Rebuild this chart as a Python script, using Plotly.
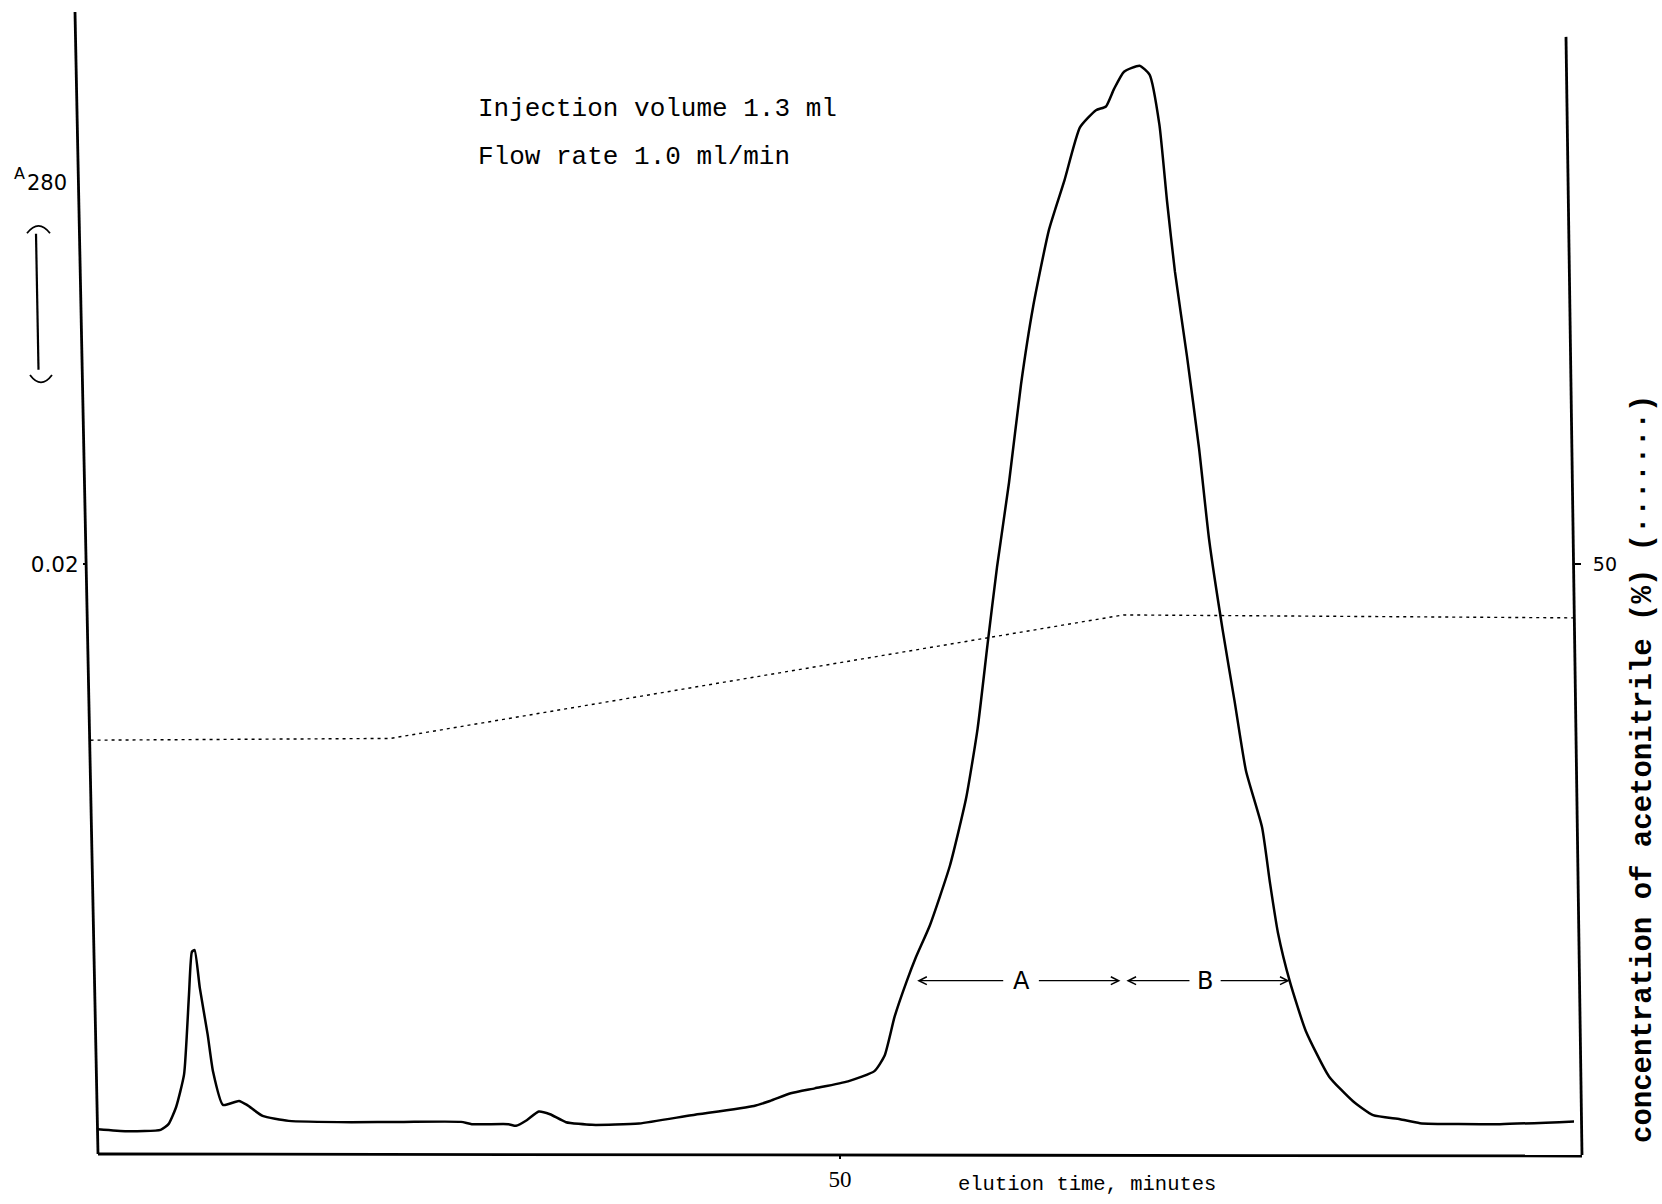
import plotly.graph_objects as go

# ---- chromatogram: elution time (min) vs absorbance at 280 nm ----
time_min = [0.0, 1.93, 4.22, 4.75, 5.26, 5.80, 6.13, 6.33, 6.51, 6.86, 7.39, 7.75, 8.42,
            9.50, 10.04, 11.09, 12.85, 17.08, 20.61, 24.46, 25.19, 27.65, 28.17, 28.89,
            29.70, 30.46, 31.54, 33.29, 36.46, 39.99, 44.20, 45.28, 46.68, 48.30, 50.54,
            52.32, 53.01, 53.68, 54.48, 55.12, 56.06, 57.41, 58.49, 59.27, 59.94, 60.58,
            61.39, 62.20, 63.01, 64.08, 65.13, 66.17, 67.25, 67.92, 68.46, 69.14, 70.19,
            70.86, 71.52, 72.04, 72.57, 73.38, 74.19, 74.87, 75.79, 76.58, 77.36, 78.44,
            78.98, 79.51, 80.32, 81.38, 82.95, 84.57, 85.92, 87.74, 89.08, 94.47, 99.80]
a280 = [0.000875, 0.000808, 0.000852, 0.001044, 0.001616, 0.002727, 0.005421, 0.006879,
        0.006936, 0.005657, 0.004074, 0.002828, 0.001694, 0.001828, 0.001694, 0.001323,
        0.001155, 0.001111, 0.001121, 0.001121, 0.001044, 0.001044, 0.000987, 0.001178,
        0.001471, 0.001380, 0.001111, 0.001020, 0.001067, 0.001347, 0.001660, 0.001828,
        0.002088, 0.002256, 0.002492, 0.002838, 0.003367, 0.004680, 0.005859, 0.006700,
        0.007778, 0.009798, 0.012054, 0.014424, 0.017273, 0.019899, 0.022761, 0.026094,
        0.028704, 0.031313, 0.032997, 0.034781, 0.035363, 0.035488, 0.036077, 0.036667,
        0.036869, 0.036566, 0.034882, 0.032273, 0.029899, 0.027037, 0.023939, 0.020842,
        0.017758, 0.015387, 0.012997, 0.011094, 0.009192, 0.007525, 0.005859, 0.004209,
        0.002660, 0.001818, 0.001347, 0.001212, 0.001077, 0.001044, 0.001145]

# ---- acetonitrile gradient (%) ----
grad_time = [-0.5, 19.7, 69.1, 99.4]
grad_pct = [35.1, 35.25, 45.7, 45.45]

# ---- pooled fractions ----
frac_labels = ["A", "B"]
frac_start = [55.2, 69.3]
frac_end = [68.9, 80.3]
frac_label_x = [62.2, 74.6]
frac_half_gap = [1.1, 0.95]
frac_level = 0.0059

# ---- absorbance scale bar (bracketed span) ----
bar_bottom = 0.0263
bar_length = 0.005

# ---- axis ticks ----
x_tick_vals = [50]
x_tick_text = ["50"]
y_tick_vals = [0.02]
y_tick_text = ["0.02"]
y2_tick_vals = [50]
y2_tick_text = ["50"]

W, H = 1662, 1204
ML, MR, MT, MB = 87, 88, 12, 43
PW, PH = W - ML - MR, H - MT - MB
PX_PER_MIN = 14.84
X0_PX = 98  # pixel column of t = 0


def px(x):
    return (x - ML) / PW


def py(y):
    return (H - MB - y) / PH


x_range = [(ML - X0_PX) / PX_PER_MIN, (W - MR - X0_PX) / PX_PER_MIN]
y_range = [0, PH / 594 * 0.02]
y2_range = [0, PH / 594 * 50]

fig = go.Figure()

fig.add_trace(go.Scatter(
    x=time_min, y=a280, mode="lines",
    line=dict(color="black", width=2.5, shape="spline", smoothing=0.5),
    showlegend=False, hoverinfo="skip"))

fig.add_trace(go.Scatter(
    x=grad_time, y=grad_pct, mode="lines", yaxis="y2",
    line=dict(color="black", width=1.4, dash="3px,4px"),
    showlegend=False, hoverinfo="skip"))

shapes = []
line_style = dict(color="black", width=2.8)
# frame lines (left, right, bottom)
shapes.append(dict(type="line", xref="paper", yref="paper",
                   x0=px(75), y0=py(12), x1=px(98), y1=py(1160), line=line_style))
shapes.append(dict(type="line", xref="paper", yref="paper",
                   x0=px(1566), y0=py(37), x1=px(1582), y1=py(1161), line=line_style))
shapes.append(dict(type="line", xref="paper", yref="paper",
                   x0=px(98), y0=py(1160), x1=px(1582), y1=py(1162), line=line_style))

# A280 scale bar: vertical stroke between two bracket caps
bar_top = bar_bottom + bar_length
cap_bulge = 0.0004
shapes.append(dict(type="line", xref="paper", yref="y",
                   x0=px(36), y0=bar_top - 0.00012, x1=px(38.5), y1=bar_bottom + 0.00028,
                   line=dict(color="black", width=2.2)))
shapes.append(dict(type="path", xref="paper", yref="y",
                   path=f"M {px(27)},{bar_top - 0.0001} Q {px(38.5)},{bar_top + cap_bulge} "
                        f"{px(50)},{bar_top - 0.0001}",
                   line=dict(color="black", width=1.8)))
shapes.append(dict(type="path", xref="paper", yref="y",
                   path=f"M {px(30)},{bar_bottom + 0.0001} Q {px(41)},{bar_bottom - cap_bulge} "
                        f"{px(52)},{bar_bottom + 0.0001}",
                   line=dict(color="black", width=1.8)))

annotations = []
mono = "Liberation Mono"
annotations.append(dict(text="Injection volume 1.3 ml", xref="paper", yref="paper",
                        x=px(476), y=py(110), xanchor="left", yanchor="middle",
                        showarrow=False, font=dict(family=mono, size=26, color="black")))
annotations.append(dict(text="Flow rate 1.0 ml/min", xref="paper", yref="paper",
                        x=px(476), y=py(158), xanchor="left", yanchor="middle",
                        showarrow=False, font=dict(family=mono, size=26, color="black")))
# A280 written with a raised A, as lettered on the axis
annotations.append(dict(text="A", xref="paper", yref="paper", x=px(12), y=py(174),
                        xanchor="left", yanchor="middle", showarrow=False,
                        font=dict(family="DejaVu Sans", size=16, color="black")))
annotations.append(dict(text="280", xref="paper", yref="paper", x=px(25), y=py(184),
                        xanchor="left", yanchor="middle", showarrow=False,
                        font=dict(family="DejaVu Sans", size=21, color="black")))
annotations.append(dict(text="elution time, minutes", xref="paper", yref="paper",
                        x=px(1087), y=py(1191), xanchor="center", yanchor="middle",
                        showarrow=False, font=dict(family=mono, size=20.5, color="black")))
annotations.append(dict(text="<b>concentration of acetonitrile (%) (·······)</b>",
                        xref="paper", yref="paper", x=px(1643), y=py(395),
                        xanchor="center", yanchor="top", textangle=-90, showarrow=False,
                        font=dict(family=mono, size=29, color="black")))

arrow_style = dict(showarrow=True, arrowhead=5, arrowsize=1.2, arrowwidth=1.3,
                   arrowcolor="black", standoff=0, startstandoff=0, text="",
                   xref="x", yref="y", axref="x", ayref="y")
for lab, s, e, lx, g in zip(frac_labels, frac_start, frac_end, frac_label_x, frac_half_gap):
    annotations.append(dict(x=s, y=frac_level, ax=lx - g, ay=frac_level, **arrow_style))
    annotations.append(dict(x=e, y=frac_level, ax=lx + g, ay=frac_level, **arrow_style))
    annotations.append(dict(text=lab, x=lx, y=frac_level, xref="x", yref="y",
                            showarrow=False, xanchor="center", yanchor="middle",
                            font=dict(family="DejaVu Sans", size=24, color="black")))

fig.update_layout(
    width=W, height=H,
    margin=dict(l=ML, r=MR, t=MT, b=MB, pad=0),
    paper_bgcolor="white", plot_bgcolor="white",
    showlegend=False,
    shapes=shapes, annotations=annotations,
    xaxis=dict(range=x_range, showline=False, showgrid=False, zeroline=False,
               tickvals=x_tick_vals, ticktext=x_tick_text, ticks="outside",
               ticklen=3, tickwidth=2, tickcolor="black",
               tickfont=dict(family="Liberation Serif", size=23, color="black")),
    yaxis=dict(range=y_range, showline=False, showgrid=False, zeroline=False,
               tickvals=y_tick_vals, ticktext=y_tick_text, ticks="outside",
               ticklen=3, tickwidth=2, tickcolor="black",
               tickfont=dict(family="DejaVu Sans", size=21.5, color="black")),
    yaxis2=dict(range=y2_range, overlaying="y", side="right", showline=False,
                showgrid=False, zeroline=False, tickvals=y2_tick_vals,
                ticktext=y2_tick_text, ticks="outside", ticklen=6, tickwidth=2,
                tickcolor="black", ticklabelstandoff=8,
                tickfont=dict(family="DejaVu Sans", size=19, color="black")),
)

fig.write_html("out.html")
